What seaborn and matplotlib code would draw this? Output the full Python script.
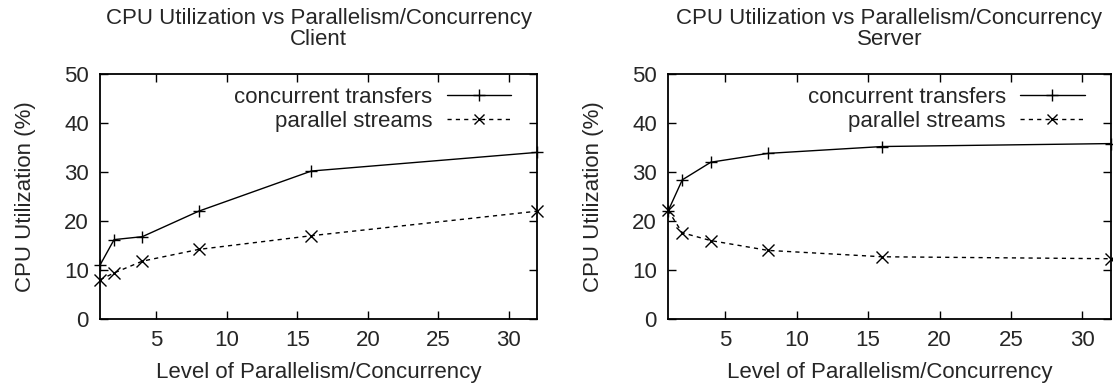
import matplotlib
matplotlib.use("Agg")
import matplotlib.pyplot as plt
import seaborn as sns
import pandas as pd
from matplotlib.lines import Line2D

levels = [1, 2, 4, 8, 16, 32]
client_concurrent = [11.0, 16.2, 16.8, 22.0, 30.2, 34.0]
client_parallel = [8.0, 9.4, 11.8, 14.2, 17.0, 22.0]
server_concurrent = [22.0, 28.4, 32.0, 33.8, 35.2, 35.8]
server_parallel = [22.2, 17.6, 16.0, 14.0, 12.7, 12.3]
series_names = ["concurrent transfers", "parallel streams"]
panel_titles = ["CPU Utilization vs Parallelism/Concurrency\nClient",
                "CPU Utilization vs Parallelism/Concurrency\nServer"]
xticks = [5, 10, 15, 20, 25, 30]
yticks = [0, 10, 20, 30, 40, 50]

sns.set_style("ticks")
plt.rcParams['font.family'] = ['Liberation Sans', 'DejaVu Sans']
FS = 16
plt.rcParams['font.size'] = FS

fig = plt.figure(figsize=(11.13, 3.9), dpi=100)
ax1 = fig.add_axes([100/1113, 71/390, 437/1113, 245/390])
ax2 = fig.add_axes([668/1113, 71/390, 443/1113, 245/390])

markers = {series_names[0]: "+", series_names[1]: "x"}
dashes = {series_names[0]: "", series_names[1]: (3, 3)}
palette = {series_names[0]: "black", series_names[1]: "black"}

for ax, conc, par, title in [(ax1, client_concurrent, client_parallel, panel_titles[0]),
                             (ax2, server_concurrent, server_parallel, panel_titles[1])]:
    df = pd.DataFrame({
        "level": levels * 2,
        "util": conc + par,
        "series": [series_names[0]] * len(levels) + [series_names[1]] * len(levels),
    })
    sns.lineplot(data=df, x="level", y="util", hue="series", style="series",
                 markers=markers, dashes=dashes, palette=palette, ax=ax,
                 linewidth=1.0, markersize=8, markeredgewidth=1.0,
                 markeredgecolor="black", legend=False, clip_on=False)
    ax.set_xlim(1, 32)
    ax.set_ylim(0, 50)
    ax.set_xticks(xticks)
    ax.set_yticks(yticks)
    ax.tick_params(direction="in", top=True, right=True, length=6, width=1,
                   labelsize=FS, pad=8, color="black")
    for s in ax.spines.values():
        s.set_linewidth(1.3)
        s.set_color("black")
    ax.set_xlabel("Level of Parallelism/Concurrency", fontsize=FS, labelpad=8)
    ax.set_ylabel("CPU Utilization (%)", fontsize=FS, labelpad=20)
    ax.set_title(title, fontsize=FS, pad=21, linespacing=1.0)
    handles = [Line2D([], [], color="black", lw=1.0, marker="+", markersize=8),
               Line2D([], [], color="black", lw=1.0, ls=(0, (3, 3)), marker="x", markersize=7)]
    ax.legend(handles, series_names, loc="upper right", frameon=False,
              markerfirst=False, handlelength=2.9, fontsize=FS,
              borderaxespad=0, borderpad=0, labelspacing=0.15, handletextpad=0.65,
              bbox_to_anchor=(1 - 26/437, 0.948))

fig.savefig("out.png", dpi=100)
